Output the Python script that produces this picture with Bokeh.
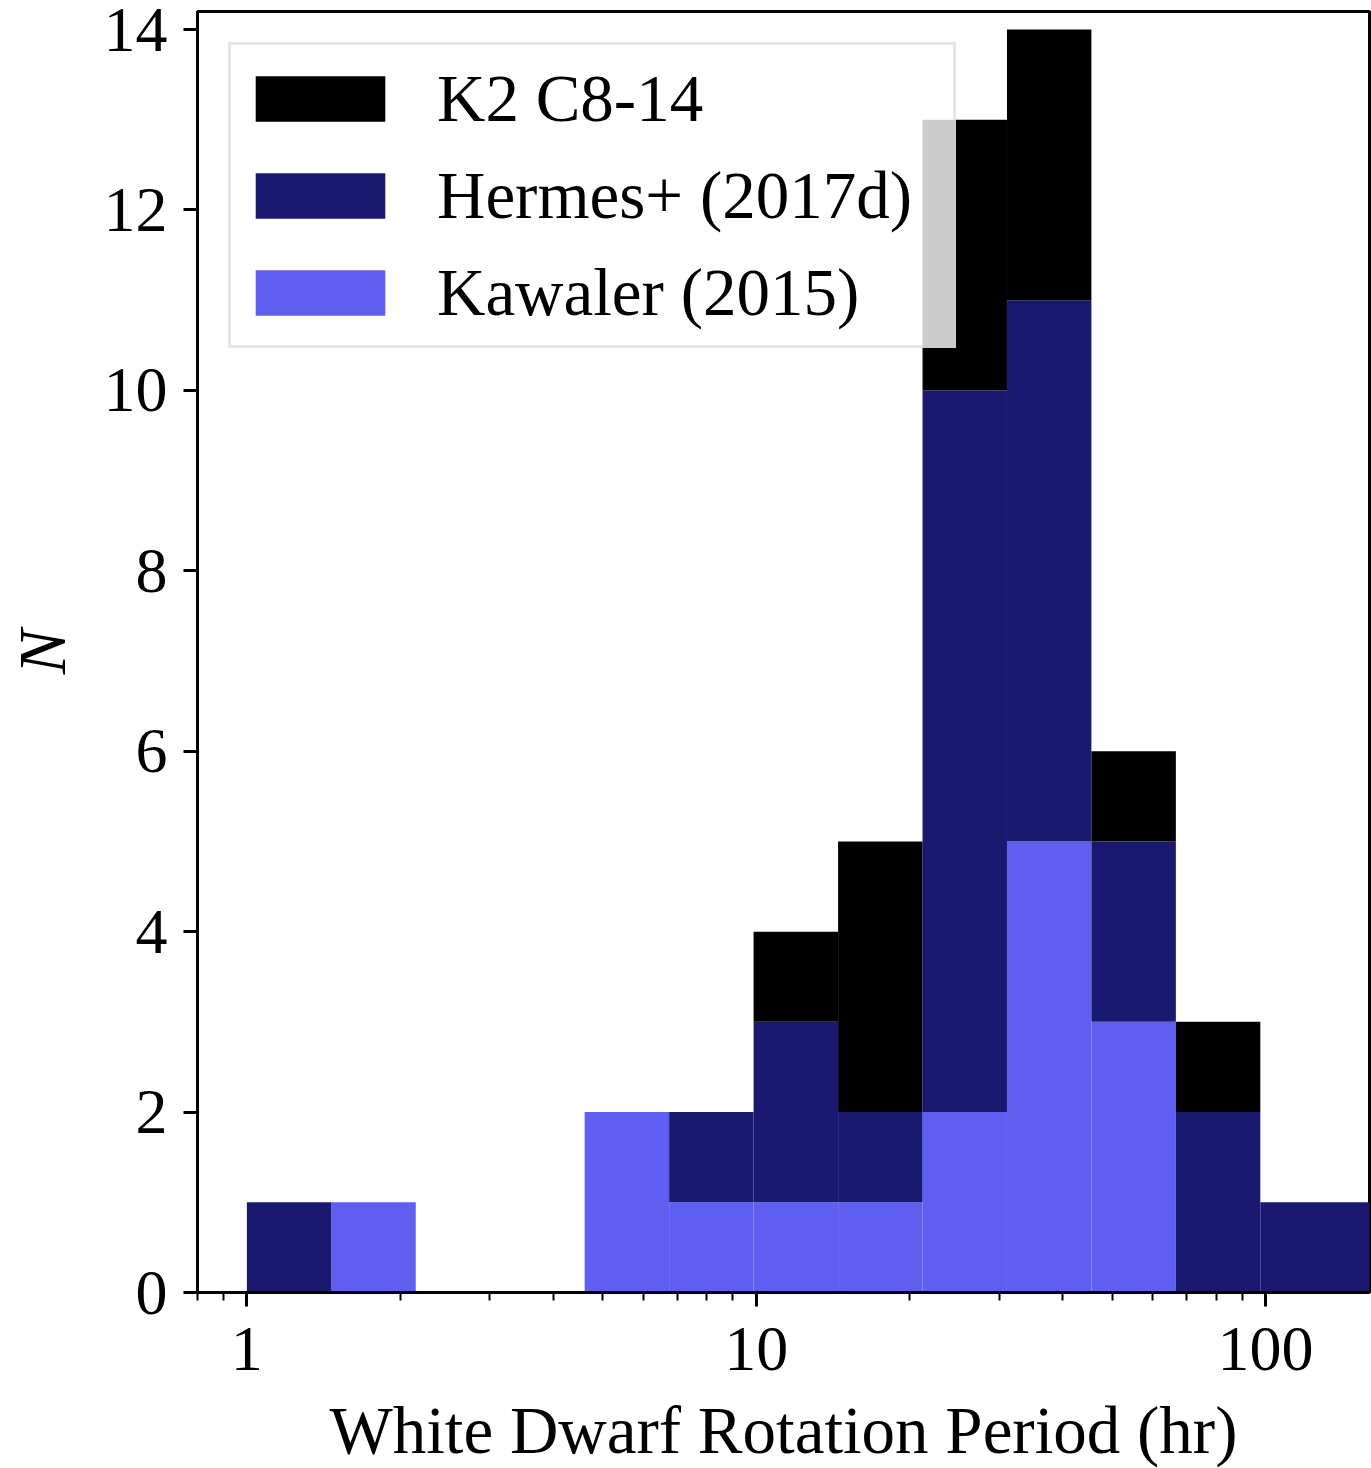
from bokeh.plotting import figure
from bokeh.models import Range1d, FixedTicker, Legend, LegendItem
from bokeh.embed import file_html
from bokeh.resources import INLINE

# Logarithmic period bins (hours); the last bin runs past the axis limit
bin_edges = [1.0, 1.465, 2.146, 3.144, 4.605, 6.746, 9.883, 14.48, 21.21,
             31.07, 45.51, 66.67, 97.67, 210.0]

# Counts per bin, stacked bottom to top
kawaler_counts = [0, 1, 0, 0, 2, 1, 1, 1, 2, 5, 3, 0, 0]
hermes_counts = [1, 0, 0, 0, 0, 1, 2, 1, 8, 6, 2, 2, 1]
k2_counts = [0, 0, 0, 0, 0, 0, 1, 3, 3, 3, 1, 1, 0]

series_labels = ["Kawaler (2015)", "Hermes+ (2017d)", "K2 C8-14"]
series_colors = ["#5e5ef0", "#191970", "#000000"]

x_ticks = [1, 10, 100]
x_tick_labels = ["1", "10", "100"]
x_minor_ticks = [0.8, 0.9, 2, 3, 4, 5, 6, 7, 8, 9,
                 20, 30, 40, 50, 60, 70, 80, 90, 200]
y_ticks = [0, 2, 4, 6, 8, 10, 12, 14]

FONT = "Liberation Serif"
TICK_FS = "64px"
LABEL_FS = "67px"

p = figure(
    x_axis_type="log",
    x_range=Range1d(0.8, 160),
    y_range=Range1d(0, 14.2),
    frame_width=1172,
    frame_height=1281,
    min_border_left=197,
    min_border_right=2,
    min_border_top=11,
    min_border_bottom=176,
    output_backend="svg",
    toolbar_location=None,
)
p.grid.visible = False
p.outline_line_color = "black"
p.outline_line_width = 3
p.background_fill_color = "white"
p.border_fill_color = "white"

left = bin_edges[:-1]
right = bin_edges[1:]
base = [0] * len(left)
renderers = {}
for label, color, counts in zip(series_labels, series_colors,
                                [kawaler_counts, hermes_counts, k2_counts]):
    top = [b + c for b, c in zip(base, counts)]
    r = p.quad(left=left, right=right, bottom=base, top=top,
               fill_color=color, line_color=None)
    renderers[label] = r
    base = top

# Axes styling
p.xaxis.ticker = FixedTicker(ticks=x_ticks, minor_ticks=x_minor_ticks)
p.xaxis.major_label_overrides = {t: s for t, s in zip(x_ticks, x_tick_labels)}
p.yaxis.ticker = FixedTicker(ticks=y_ticks)
for ax in (p.xaxis[0], p.yaxis[0]):
    ax.axis_line_width = 3
    ax.axis_line_color = "black"
    ax.major_tick_line_width = 3
    ax.major_tick_out = 14
    ax.major_tick_in = 0
    ax.minor_tick_line_width = 2
    ax.minor_tick_out = 8
    ax.minor_tick_in = 0
    ax.major_label_text_font = FONT
    ax.major_label_text_font_size = TICK_FS
    ax.major_label_text_color = "black"
    ax.axis_label_text_font = FONT
    ax.axis_label_text_font_size = LABEL_FS
    ax.axis_label_text_color = "black"
p.yaxis.minor_tick_line_color = None
p.xaxis.axis_label = "White Dwarf Rotation Period (hr)"
p.xaxis.axis_label_text_font_style = "normal"
p.xaxis.major_label_standoff = 21
p.xaxis.axis_label_standoff = 20
p.yaxis.axis_label = "N"
p.yaxis.axis_label_text_font_style = "italic"
p.yaxis.major_label_standoff = 16
p.yaxis.axis_label_standoff = 22

legend = Legend(
    items=[LegendItem(label=lab, renderers=[renderers[lab]])
           for lab in ["K2 C8-14", "Hermes+ (2017d)", "Kawaler (2015)"]],
    location="top_left",
    margin=31,
    padding=8,
    spacing=7,
    glyph_width=162,
    glyph_height=57,
    label_standoff=36,
    label_width=508,
    label_height=90,
    label_text_font=FONT,
    label_text_font_size=LABEL_FS,
    label_text_color="black",
    border_line_color="#cccccc",
    border_line_width=3,
    background_fill_color="white",
    background_fill_alpha=0.8,
)
p.add_layout(legend)

open("out.html", "w").write(file_html(p, INLINE))
